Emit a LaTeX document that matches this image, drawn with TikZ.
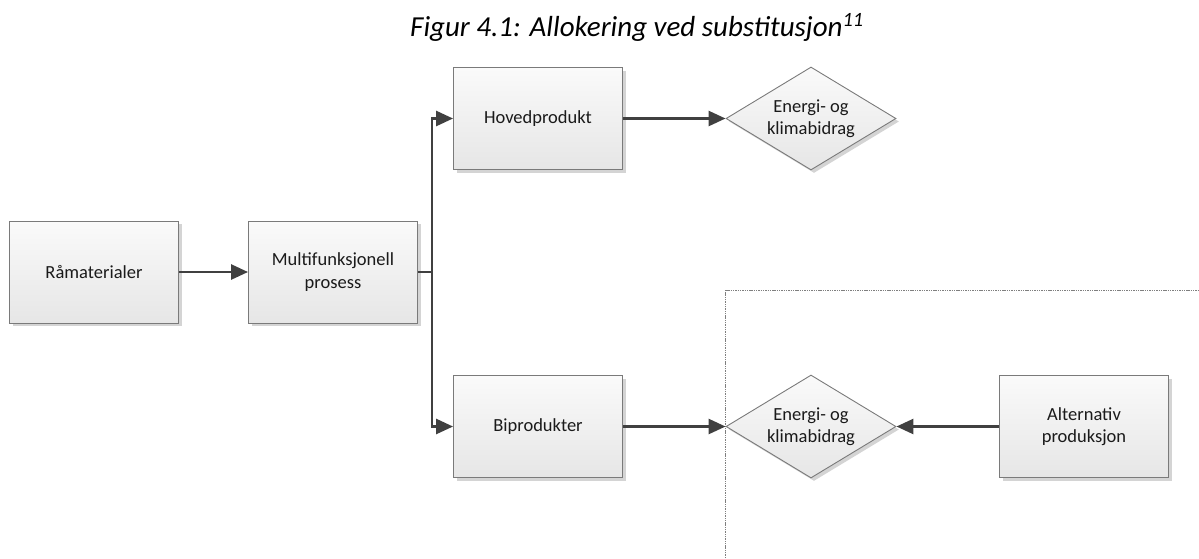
\documentclass[tikz,border=0pt]{standalone}
\usepackage{fontspec}
\setmainfont{Carlito}
\usetikzlibrary{arrows.meta,shapes.geometric,shadows}

\definecolor{boxline}{HTML}{7A7A7A}
\definecolor{boxtop}{HTML}{FAFAFA}
\definecolor{boxbottom}{HTML}{E6E6E6}
\definecolor{shadowcol}{HTML}{D4D4D4}
\definecolor{flowcol}{HTML}{404040}
\definecolor{textcol}{HTML}{1A1A1A}
\definecolor{bordercol}{HTML}{7F7F7F}

\begin{document}
\begin{tikzpicture}[x=1pt,y=-1pt,
  basefill/.style={draw=boxline, line width=0.9pt, top color=boxtop, bottom color=boxbottom,
    inner sep=0pt, align=center, text=textcol,
    font=\fontsize{18.5}{22.5}\selectfont,
    drop shadow={shadow xshift=3pt, shadow yshift=-3pt, fill=shadowcol, opacity=1}},
  stepbox/.style={basefill, rectangle, minimum width=169pt, minimum height=102pt},
  result/.style={basefill, diamond, aspect=1.65, minimum width=170pt, minimum height=103pt},
  flow/.style={draw=flowcol, line width=2.6pt, -{Triangle[length=17pt,width=15pt]}},
  link/.style={draw=flowcol, line width=2.6pt},
  zone/.style={draw=bordercol, line width=0.9pt, dash pattern=on 1.4pt off 0.9pt}
]
\useasboundingbox (0,0) rectangle (1199,558);

% heading
\node[anchor=base west, inner sep=0pt, text=black,
      font=\fontsize{29}{34}\selectfont\itshape] (title) at (410,36)
  {Figur 4.1: Allokering ved substitusjon\textsuperscript{11}};

% boundary of the substituted system
\coordinate (zb) at (725,558);
\coordinate (zc) at (725,290);
\coordinate (zr) at (1199,290);
\draw[zone] (zb) -- (zc) -- (zr);

% process chain
\node[stepbox] (raw)   at (94,272)    {Råmaterialer};
\node[stepbox] (multi) at (333,272)   {Multifunksjonell\\prosess};
\node[stepbox] (main)  at (538,118.5) {Hovedprodukt};
\node[stepbox] (by)    at (538,426.5) {Biprodukter};
\node[stepbox] (alt)   at (1084,426.5) {Alternativ\\produksjon};

\node[result] (effA) at (811,118.5) {Energi- og\\klimabidrag};
\node[result] (effB) at (811,426.5) {Energi- og\\klimabidrag};

% connectors
\coordinate (split) at (432,272);
\draw[flow] (raw) -- (multi);
\draw[link] (multi.east) -- (split);
\draw[flow] (split) |- (main.west);
\draw[flow] (split) |- (by.west);
\draw[flow] (main) -- (effA);
\draw[flow] (by) -- (effB);
\draw[flow] (alt) -- (effB);
\end{tikzpicture}
\end{document}
